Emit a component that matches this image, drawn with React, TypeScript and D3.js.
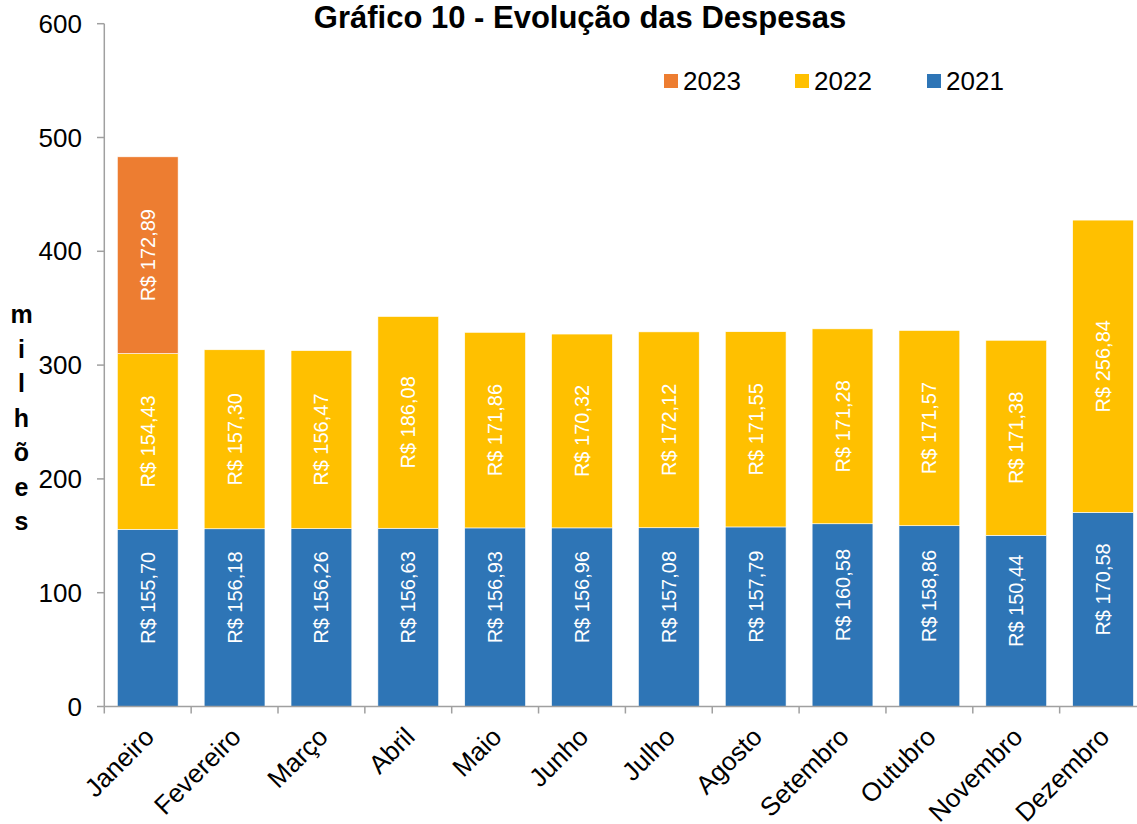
import React from "react";
import * as d3 from "d3";

const months = ["Janeiro","Fevereiro","Março","Abril","Maio","Junho","Julho","Agosto","Setembro","Outubro","Novembro","Dezembro"];
const values2021 = [155.70,156.18,156.26,156.63,156.93,156.96,157.08,157.79,160.58,158.86,150.44,170.58];
const values2022 = [154.43,157.30,156.47,186.08,171.86,170.32,172.12,171.55,171.28,171.57,171.38,256.84];
const values2023: (number | null)[] = [172.89,null,null,null,null,null,null,null,null,null,null,null];
const seriesNames = ["2021","2022","2023"];
const colors = ["#2E75B6","#FFC000","#ED7D31"];
const yTicks = [0,100,200,300,400,500,600];
const title = "Gráfico 10 - Evolução das Despesas";
const yLabel = "milhões";

const W = 1137, H = 824;
const FONT = "'Liberation Sans', Arial, sans-serif";

function fmt(v: number) {
  return "R$ " + v.toFixed(2).replace(".", ",");
}

export default function App() {
  const x = d3.scaleBand<string>().domain(months).range([104.3, 104.3 + 86.85 * 12]).padding(0);
  const y = d3.scaleLinear().domain([0, 600]).range([706.5, 23.7]);
  const bw = x.bandwidth() * 0.7;
  const seriesVals = [values2021, values2022, values2023];

  const segs: any[] = [];
  months.forEach((m, i) => {
    let base = 0;
    seriesVals.forEach((arr, s) => {
      const v = arr[i];
      if (v == null) return;
      segs.push({ m, s, v, y0: base, y1: base + v });
      base += v;
    });
  });

  const legendItems = [
    { name: seriesNames[2], color: colors[2], x: 664 },
    { name: seriesNames[1], color: colors[1], x: 795 },
    { name: seriesNames[0], color: colors[0], x: 927 },
  ];

  return (
    <svg width={W} height={H} style={{ position: "absolute", left: 0, top: 0, background: "#fff" }} fontFamily={FONT}>
      <text x={580} y={27.5} textAnchor="middle" fontWeight="bold" fontSize={31} fill="#000">{title}</text>

      {/* bars */}
      {segs.map((d, k) => {
        const cx = (x(d.m) as number) + x.bandwidth() / 2;
        return (
          <rect key={"r" + k} x={cx - bw / 2} y={y(d.y1)} width={bw} height={y(d.y0) - y(d.y1)}
            fill={colors[d.s]} stroke="#fff" strokeWidth={0.6} />
        );
      })}
      {segs.map((d, k) => {
        const cx = (x(d.m) as number) + x.bandwidth() / 2;
        const cy = (y(d.y0) + y(d.y1)) / 2 - (d.s === 0 ? 20 : 0);
        return (
          <text key={"t" + k} transform={`translate(${cx},${cy}) rotate(-90)`} textAnchor="middle"
            dominantBaseline="central" fill="#fff" fontSize={20}>{fmt(d.v)}</text>
        );
      })}

      {/* y axis */}
      <line x1={104.3} x2={104.3} y1={y(600)} y2={y(0)} stroke="#A0A0A0" strokeWidth={1.5} />
      {yTicks.map(t => (
        <g key={"y" + t}>
          <line x1={97} x2={104.3} y1={y(t)} y2={y(t)} stroke="#A0A0A0" strokeWidth={1.5} />
          <text x={82} y={y(t)} textAnchor="end" dominantBaseline="central" fontSize={26} fill="#000">{t}</text>
        </g>
      ))}

      {/* x axis */}
      <line x1={104.3} x2={W} y1={y(0)} y2={y(0)} stroke="#A0A0A0" strokeWidth={1.5} />
      {months.map(m => (
        <line key={"xt" + m} x1={x(m) as number} x2={x(m) as number} y1={y(0)} y2={y(0) + 7} stroke="#A0A0A0" strokeWidth={1.5} />
      ))}
      {months.map(m => {
        const cx = (x(m) as number) + x.bandwidth() / 2;
        return (
          <text key={"xl" + m} transform={`translate(${cx + 8},${y(0) + 32}) rotate(-45)`} textAnchor="end"
            fontSize={26} fill="#000">{m}</text>
        );
      })}

      {/* y label */}
      {yLabel.split("").map((c, i) => (
        <text key={"yl" + i} x={21.5} y={323 + i * 34.5} textAnchor="middle" fontWeight="bold" fontSize={25} fill="#000">{c}</text>
      ))}

      {/* legend */}
      {legendItems.map(l => (
        <g key={"lg" + l.name}>
          <rect x={l.x} y={74} width={14} height={14} fill={l.color} />
          <text x={l.x + 19} y={90} fontSize={26} fill="#000">{l.name}</text>
        </g>
      ))}
    </svg>
  );
}
